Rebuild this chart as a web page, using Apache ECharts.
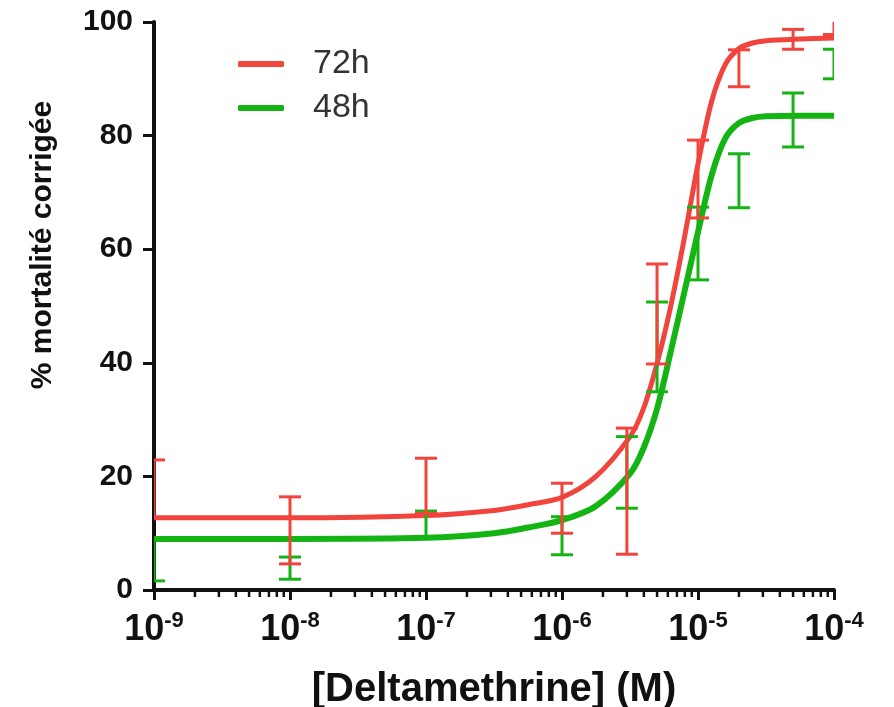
<!DOCTYPE html>
<html>
<head>
<meta charset="utf-8">
<script src="https://cdn.jsdelivr.net/npm/echarts@6/dist/echarts.min.js"></script>
<style>
  html, body { margin: 0; padding: 0; background: #fff; }
  #main { width: 894px; height: 707px; }
</style>
</head>
<body>
<div id="main"></div>
<script>
// concentrations (M) of the measured points
var conc = [1e-9, 1e-8, 1e-7, 1e-6, 3e-6, 5e-6, 1e-5, 2e-5, 5e-5, 1e-4];
// error bars (low / high end)
var low72  = [12.7, 4.6, 13.5, 10.0, 6.3, 39.8, 65.5, 88.6, 95.2, 97.8];
var high72 = [22.9, 16.4, 23.2, 18.8, 28.5, 57.4, 79.2, 95.1, 98.7, 101];
var low48  = [1.6, 1.9, 9.3, 6.2, 14.4, 34.9, 54.6, 67.3, 78.0, 90.0];
var high48 = [9.0, 5.8, 13.9, 12.9, 27.0, 50.7, 67.4, 76.8, 87.5, 95.2];

// fitted curves, read at these exponents of 10
var curveExp = [-9, -8, -7, -6.5, -6.25, -6, -5.75, -5.5, -5.4, -5.3, -5.2, -5.1, -5.0, -4.9, -4.8, -4.7, -4.6, -4.5, -4.25, -4];
var curve72  = [12.7, 12.7, 13.1, 14.0, 15.0, 16.3, 20.0, 27.0, 32.0, 40.0, 50.0, 62.0, 75.0, 86.0, 92.5, 95.3, 96.3, 96.7, 97.0, 97.2];
var curve48  = [9.0, 9.0, 9.2, 10.0, 11.0, 12.3, 14.8, 20.5, 25.0, 32.0, 42.0, 52.5, 63.0, 73.0, 79.5, 82.2, 83.1, 83.4, 83.5, 83.5];

// axis labels
var xTickLabels = ['-9', '-8', '-7', '-6', '-5', '-4'];
var minorMultiples = [2, 3, 4, 5, 6, 7, 8, 9];

var RED = '#f0443c';
var GREEN = '#14b414';
var FONT = 'Arial, Liberation Sans, sans-serif';

var chart = echarts.init(document.getElementById('main'));

function pairs(ys) {
    return curveExp.map(function (e, i) { return [Math.pow(10, e), ys[i]]; });
}
function bars(lo, hi) {
    return conc.map(function (c, i) { return [c, lo[i], hi[i]]; });
}

// minor ticks of the log axis: 2..9 in each decade
var minorTicks = [];
for (var d = 0; d < xTickLabels.length - 1; d++) {
    minorMultiples.forEach(function (m) {
        minorTicks.push([m * Math.pow(10, Number(xTickLabels[d])), 0]);
    });
}

function errorBar(color) {
    return function (params, api) {
        var x = api.value(0);
        var lo = api.coord([x, api.value(1)]);
        var hi = api.coord([x, api.value(2)]);
        var w = 11;
        var st = { stroke: color, lineWidth: 3 };
        return {
            type: 'group',
            children: [
                { type: 'line', shape: { x1: lo[0], y1: lo[1], x2: hi[0], y2: hi[1] }, style: st },
                { type: 'line', shape: { x1: hi[0] - w, y1: hi[1], x2: hi[0] + w, y2: hi[1] }, style: st },
                { type: 'line', shape: { x1: lo[0] - w, y1: lo[1], x2: lo[0] + w, y2: lo[1] }, style: st }
            ]
        };
    };
}

var option = {
    animation: false,
    grid: { left: 154, right: 60, top: 22, bottom: 117, outerBoundsMode: 'none', containLabel: false },
    legend: {
        data: ['72h', '48h'],
        orient: 'vertical',
        left: 233,
        top: 39,
        itemWidth: 46,
        itemHeight: 6,
        itemGap: 4,
        icon: 'roundRect',
        textStyle: {
            fontFamily: FONT,
            fontSize: 34,
            color: '#333',
            lineHeight: 40,
            padding: [0, 0, 0, 24]
        }
    },
    xAxis: {
        type: 'log',
        logBase: 10,
        min: 1e-9,
        max: 1e-4,
        name: '[Deltamethrine] (M)',
        nameLocation: 'middle',
        nameGap: 80,
        nameTextStyle: {
            fontFamily: FONT,
            fontSize: 40,
            fontWeight: 'bold',
            color: '#111'
        },
        axisLine: { lineStyle: { color: '#111', width: 4 } },
        axisTick: { length: 10, lineStyle: { color: '#111', width: 3 } },
        splitLine: { show: false },
        axisLabel: {
            margin: 20,
            formatter: function (v, i) { return '{b|10}{s|' + xTickLabels[i] + '}'; },
            rich: {
                b: { fontFamily: FONT, fontSize: 36, fontWeight: 'bold', color: '#111', lineHeight: 40 },
                s: { fontFamily: FONT, fontSize: 22, fontWeight: 'bold', color: '#111', lineHeight: 22, verticalAlign: 'top' }
            }
        }
    },
    yAxis: {
        type: 'value',
        min: 0,
        max: 100,
        interval: 20,
        name: '% mortalité corrigée',
        nameLocation: 'middle',
        nameGap: 96,
        nameTextStyle: {
            fontFamily: FONT,
            fontSize: 30,
            fontWeight: 'bold',
            color: '#111',
            padding: [0, 0, 0, 122]
        },
        axisLine: { show: true, lineStyle: { color: '#111', width: 4 } },
        axisTick: { show: true, length: 11, lineStyle: { color: '#111', width: 3 } },
        splitLine: { show: false },
        axisLabel: {
            margin: 21,
            fontFamily: FONT,
            fontSize: 30,
            fontWeight: 'bold',
            color: '#111'
        }
    },
    series: [
        {
            name: '48h', type: 'line', data: pairs(curve48), smooth: 0.3,
            showSymbol: false, symbol: 'none', color: GREEN,
            lineStyle: { width: 6, color: GREEN }, z: 2
        },
        {
            name: '72h', type: 'line', data: pairs(curve72), smooth: 0.3,
            showSymbol: false, symbol: 'none', color: RED,
            lineStyle: { width: 5, color: RED }, z: 3
        },
        {
            name: 'err48', type: 'custom', data: bars(low48, high48),
            renderItem: errorBar(GREEN), clip: true, z: 4
        },
        {
            name: 'err72', type: 'custom', data: bars(low72, high72),
            renderItem: errorBar(RED), clip: true, z: 5
        },
        {
            name: 'minor', type: 'custom', data: minorTicks, clip: false, z: 6,
            renderItem: function (params, api) {
                var p = api.coord([api.value(0), 0]);
                return { type: 'line', shape: { x1: p[0], y1: p[1], x2: p[0], y2: p[1] + 7 }, style: { stroke: '#111', lineWidth: 2.5 } };
            }
        }
    ]
};

chart.setOption(option);
</script>
</body>
</html>
